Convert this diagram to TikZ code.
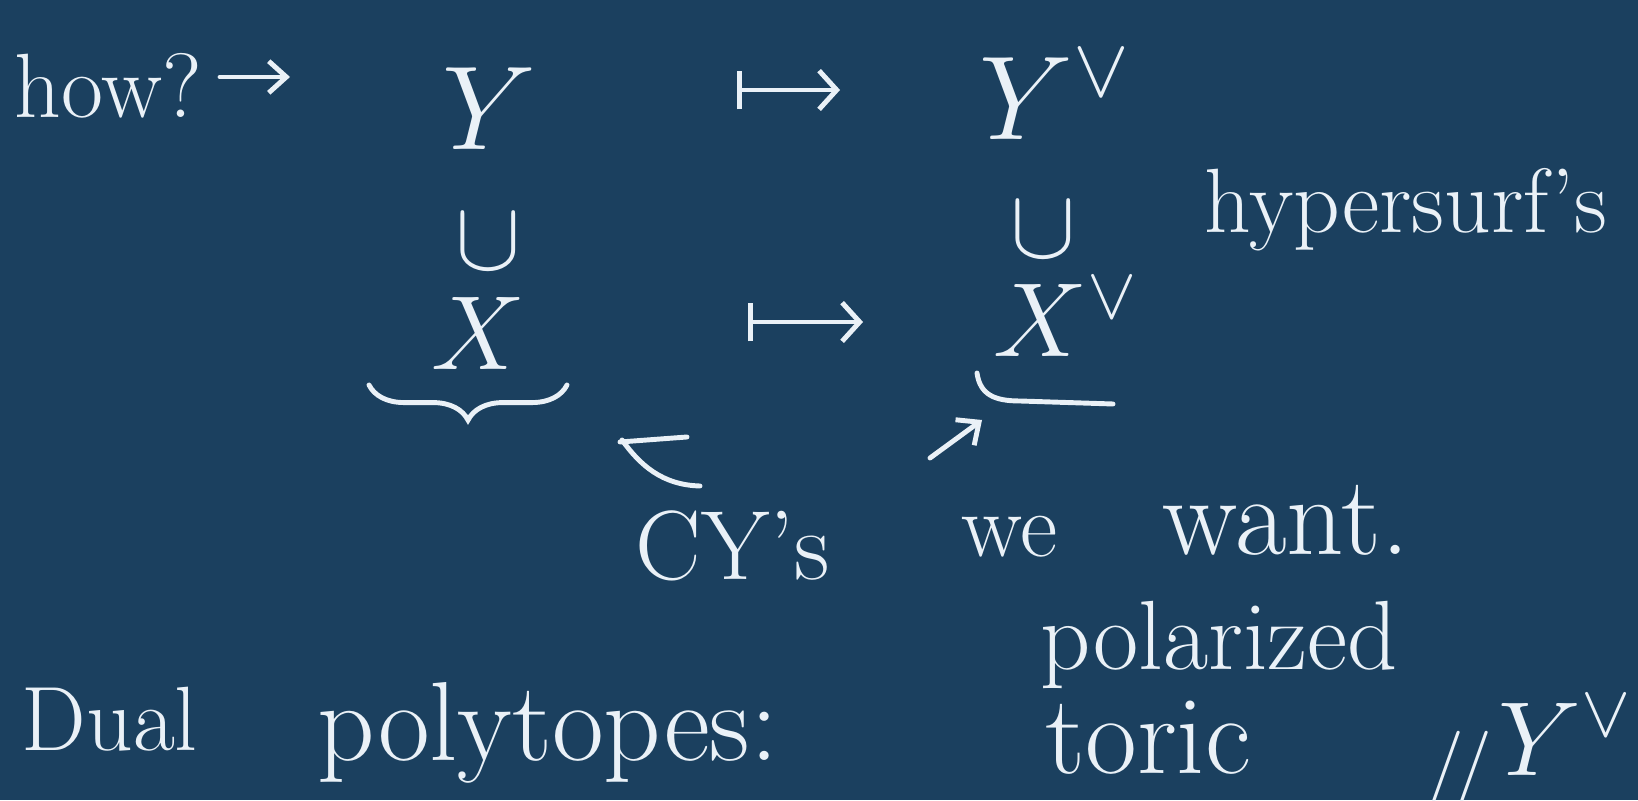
\RequirePackage{fix-cm}
\documentclass[tikz,border=0pt]{standalone}
\usepackage{amsmath,amssymb}
\usepackage{tikz}
\usetikzlibrary{arrows.meta,calc,decorations.pathreplacing}

\definecolor{board}{RGB}{27,64,95}
\definecolor{chalk}{RGB}{234,241,247}

\tikzset{
  hand/.style={chalk,font=\fontsize{26}{30}\selectfont,inner sep=0pt},
  big/.style={chalk,font=\fontsize{34}{40}\selectfont,inner sep=0pt},
  stroke/.style={chalk,line width=1.4pt,line cap=round},
  maps/.style={stroke,{Bar[width=11pt]}-{Straight Barb[length=5pt,width=11pt]}},
  tip/.style={stroke,-{Straight Barb[length=5pt,width=9pt]}},
}

\begin{document}
\begin{tikzpicture}
\useasboundingbox (0,0) rectangle (16.38,8);
\clip (0,0) rectangle (16.38,8);
\fill[board] (0,0) rectangle (16.38,8);

% Question and the two ambient varieties
\node[hand,anchor=base west] (how) at (0.14,6.82) {how?};
\coordinate (howA) at (2.20,7.23);
\coordinate (howB) at (2.90,7.23);
\draw[tip] (howA) -- (howB);

\node[big,anchor=base] (Y) at (4.89,6.50) {$Y$};
\node[big,anchor=base] (Yd) at (10.55,6.60) {$Y^{\vee}$};
\coordinate (mYa) at (7.37,7.10);
\coordinate (mYb) at (8.40,7.10);
\draw[maps] (mYa) -- (mYb);

% Inclusions
\node[big,font=\fontsize{28}{32}\selectfont] (cupL) at (4.88,5.58) {$\cup$};
\node[big,font=\fontsize{28}{32}\selectfont] (cupR) at (10.43,5.70) {$\cup$};
\node[hand,anchor=base west] (hyp) at (12.04,5.67) {hypersurf's};

% Hypersurfaces
\node[big,anchor=base,font=\fontsize{30}{34}\selectfont] (X) at (4.78,4.30) {$X$};
\node[big,anchor=base,font=\fontsize{30}{34}\selectfont] (Xd) at (10.66,4.43) {$X^{\vee}$};
\coordinate (mXa) at (7.48,4.78);
\coordinate (mXb) at (8.63,4.78);
\draw[maps] (mXa) -- (mXb);

% Braces under X and X dual
\coordinate (bLa) at (3.69,4.15);
\coordinate (bLb) at (5.67,4.15);
\draw[stroke,decorate,decoration={brace,mirror,amplitude=10pt}] (bLa) -- (bLb);
\draw[stroke] (9.77,4.27) .. controls (9.80,4.05) and (9.95,3.99) .. (10.20,3.99) -- (11.13,3.96);

% CY's sit in both
\draw[stroke] (6.20,3.58) -- (6.87,3.63);
\draw[stroke] (6.22,3.60) .. controls (6.40,3.35) and (6.62,3.15) .. (7.00,3.14);
\coordinate (cyA) at (9.30,3.42);
\coordinate (cyB) at (9.82,3.80);
\draw[tip] (cyA) -- (cyB);

\node[hand,anchor=base west,font=\fontsize{28}{32}\selectfont] (cy) at (6.35,2.20) {CY's};
\node[hand,anchor=base west] (we) at (9.61,2.43) {we};
\node[hand,anchor=base west,font=\fontsize{32}{36}\selectfont] (want) at (11.62,2.45) {want.};

% Dual polytopes
\node[hand,anchor=base west] (dual) at (0.21,0.50) {Dual};
\node[hand,anchor=base west,font=\fontsize{32}{36}\selectfont] (poly) at (3.17,0.40) {polytopes:};
\node[hand,anchor=base west,font=\fontsize{28}{32}\selectfont] (polar) at (10.40,1.30) {polarized};
\node[hand,anchor=base west,font=\fontsize{32}{36}\selectfont] (toric) at (10.45,0.27) {toric};
\node[hand,anchor=base,font=\fontsize{24}{28}\selectfont] (eq) at (14.58,0.06) {$/\!/$};
\node[big,anchor=base west,font=\fontsize{30}{34}\selectfont] (Ydb) at (14.98,0.25) {$Y^{\vee}$};
\end{tikzpicture}
\end{document}
